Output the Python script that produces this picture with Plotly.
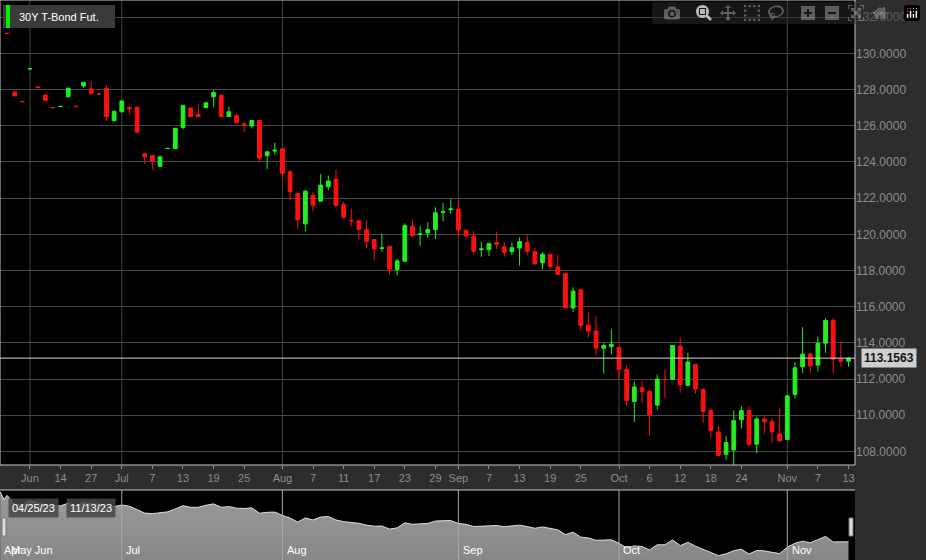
import pandas as pd
import plotly.graph_objects as go

# trading days shown on the chart
early_dates = ["2023-05-24", "2023-05-26", "2023-05-30", "2023-06-01", "2023-06-05", "2023-06-08",
               "2023-06-12", "2023-06-14", "2023-06-16", "2023-06-21", "2023-06-23", "2023-06-27",
               "2023-06-28", "2023-06-29", "2023-06-30", "2023-07-03"]
dates = early_dates + [d.strftime("%Y-%m-%d") for d in pd.bdate_range("2023-07-04", "2023-11-13")]

opens = [131.12, 127.87, 127.34, 129.14, 128.14, 127.7, 127.01, 127.06, 127.6, 127.08,
         128.2, 128.04, 127.76, 128.06, 126.27, 126.77, 127.0, 127.03, 124.45, 124.36,
         123.76, 124.74, 124.73, 125.9, 126.98, 126.63, 127.0, 127.6, 127.69, 126.51,
         126.57, 126.1, 125.99, 126.29, 124.35, 124.6, 124.73, 123.45, 122.25, 120.58,
         122.16, 121.83, 122.63, 123.05, 121.64, 120.78, 120.75, 120.26, 119.71, 119.22,
         119.33, 118.05, 118.51, 120.45, 119.98, 120.07, 120.26, 121.21, 121.36, 121.4,
         120.22, 119.89, 119.15, 119.15, 119.55, 119.31, 119.04, 119.24, 119.55, 119.04,
         118.42, 118.9, 118.2, 117.84, 115.93, 116.93, 114.98, 114.66, 113.7, 113.79,
         113.75, 112.53, 110.76, 111.52, 111.31, 110.56, 111.98, 111.98, 113.82, 111.65,
         112.8, 111.42, 110.26, 109.08, 107.84, 108.08, 109.75, 110.26, 108.4, 109.78,
         109.65, 108.98, 108.66, 111.15, 112.68, 113.38, 112.77, 113.98, 115.24, 113.1,
         112.99]
highs = [131.12, 127.87, 127.34, 129.15, 128.14, 127.7, 127.01, 127.07, 128.08, 127.08,
         128.4, 128.48, 127.76, 128.24, 126.8, 127.37, 127.09, 127.03, 124.45, 124.36,
         124.36, 124.75, 125.86, 127.13, 126.98, 127.18, 127.27, 127.96, 127.69, 127.07,
         126.68, 126.2, 126.29, 126.29, 124.56, 125.06, 124.73, 123.56, 122.25, 122.47,
         122.35, 123.33, 123.24, 123.56, 121.79, 121.41, 120.75, 120.77, 119.71, 120.04,
         119.33, 118.66, 120.6, 120.83, 120.45, 120.67, 121.5, 121.73, 121.94, 121.88,
         120.22, 120.2, 119.6, 119.5, 120.15, 119.55, 119.55, 119.83, 119.96, 119.24,
         119.0, 118.9, 118.87, 117.84, 117.08, 116.99, 115.69, 115.47, 113.98, 114.76,
         113.8, 112.77, 111.88, 111.9, 111.45, 112.24, 112.53, 113.86, 114.3, 113.45,
         112.8, 111.5, 110.4, 109.4, 108.86, 110.26, 110.5, 110.5, 109.92, 109.9,
         109.83, 110.39, 111.15, 112.94, 114.87, 113.45, 114.35, 115.37, 115.37, 114.02,
         113.19]
lows = [131.1, 127.65, 127.33, 129.14, 128.13, 127.4, 127.0, 127.06, 127.6, 127.07,
        128.1, 127.7, 127.76, 126.25, 126.27, 126.77, 126.63, 125.64, 123.9, 123.56,
        123.76, 124.74, 124.73, 125.8, 126.5, 126.5, 127.0, 127.03, 126.44, 126.51,
        126.18, 125.64, 125.84, 124.02, 123.6, 124.4, 123.05, 121.88, 120.3, 120.16,
        121.27, 121.83, 122.44, 121.51, 120.86, 120.45, 119.71, 119.24, 118.59, 119.04,
        117.79, 117.73, 118.51, 119.85, 119.35, 119.8, 119.74, 120.71, 121.14, 119.83,
        119.78, 118.89, 118.76, 118.79, 119.18, 118.76, 118.85, 118.26, 118.85, 118.29,
        118.07, 118.07, 117.73, 115.93, 115.69, 114.68, 114.3, 113.32, 112.3, 113.36,
        111.98, 110.5, 109.62, 110.7, 108.86, 110.31, 110.94, 111.98, 111.24, 111.65,
        111.18, 109.58, 108.77, 107.71, 107.52, 107.1, 109.27, 108.27, 107.9, 108.95,
        108.49, 108.55, 108.62, 110.94, 112.34, 112.34, 112.43, 113.45, 112.34, 112.68,
        112.68]
closes = [131.1, 127.65, 127.33, 129.15, 128.13, 127.4, 127.0, 127.07, 128.08, 127.07,
          128.4, 127.8, 127.76, 126.5, 126.8, 127.37, 126.93, 125.64, 124.27, 124.04,
          124.28, 124.75, 125.86, 127.13, 126.5, 126.5, 127.27, 127.83, 126.5, 126.77,
          126.18, 126.05, 126.29, 124.21, 124.56, 124.65, 123.37, 122.35, 120.8, 122.38,
          121.6, 122.72, 122.94, 121.6, 120.95, 120.75, 120.28, 119.61, 119.19, 119.25,
          118.07, 118.53, 120.48, 119.93, 120.02, 120.26, 121.19, 121.25, 121.4, 120.24,
          119.91, 119.07, 119.19, 119.5, 119.45, 119.0, 119.26, 119.6, 119.05, 118.38,
          118.9, 118.21, 117.79, 115.93, 116.86, 114.96, 114.65, 113.7, 113.85, 113.92,
          112.54, 110.81, 111.56, 111.31, 110.01, 112.0, 111.98, 113.86, 111.68, 112.94,
          111.45, 110.2, 109.14, 107.78, 108.49, 109.7, 110.26, 108.4, 109.79, 109.64,
          109.08, 108.58, 111.07, 112.62, 113.38, 112.73, 113.98, 115.24, 113.1, 112.99,
          113.1563]

# navigator history before the main window (Apr 25 .. May)
nav_pre_x = [-0.9, -0.4]
nav_pre_close = [132.5, 129.5]

tick_dates = ["2023-06-01", "2023-06-14", "2023-06-27", "2023-07-03", "2023-07-07", "2023-07-13",
              "2023-07-19", "2023-07-25", "2023-08-01", "2023-08-07", "2023-08-11", "2023-08-17",
              "2023-08-23", "2023-08-29", "2023-09-01", "2023-09-07", "2023-09-13", "2023-09-19",
              "2023-09-25", "2023-10-02", "2023-10-06", "2023-10-12", "2023-10-18", "2023-10-24",
              "2023-11-01", "2023-11-07", "2023-11-13"]
tick_text = ["Jun", "14", "27", "Jul", "7", "13", "19", "25", "Aug", "7", "11", "17", "23", "29",
             "Sep", "7", "13", "19", "25", "Oct", "6", "12", "18", "24", "Nov", "7", "13"]
month_starts = ["2023-06-01", "2023-07-03", "2023-08-01", "2023-09-01", "2023-10-02", "2023-11-01"]
nav_months = ["Jul", "Aug", "Sep", "Oct", "Nov"]

idx = list(range(len(dates)))
tick_idx = [dates.index(d) for d in tick_dates]
month_idx = [dates.index(d) for d in month_starts]

XD = 855 / 926
MAIN_BOTTOM = 95 / 560
NAV_TOP = 70 / 560
FONT = "Liberation Sans"

fig = go.Figure()
fig.add_trace(go.Candlestick(
    x=idx, open=opens, high=highs, low=lows, close=closes,
    increasing=dict(line=dict(color="#22ee22", width=1), fillcolor="#22ee22"),
    decreasing=dict(line=dict(color="#ff1010", width=1), fillcolor="#ff1010"),
    whiskerwidth=0, showlegend=False, hoverinfo="skip"))

fig.add_trace(go.Scatter(
    x=nav_pre_x + idx, y=nav_pre_close + closes, xaxis="x2", yaxis="y2", mode="lines",
    line=dict(color="#dddddd", width=1), fill="tozeroy",
    fillgradient=dict(type="vertical", colorscale=[[0, "#3a3a3a"], [1, "#9a9a9a"]]),
    showlegend=False, hoverinfo="skip"))

shapes = []
for m in month_idx:
    shapes.append(dict(type="line", xref="x", yref="paper", x0=m, x1=m, y0=MAIN_BOTTOM, y1=1,
                       line=dict(color="#474747", width=1), layer="below"))
for m in month_idx[1:]:
    shapes.append(dict(type="line", xref="x2", yref="paper", x0=m, x1=m, y0=0, y1=NAV_TOP,
                       line=dict(color="#aaaaaa", width=1)))
# last price line
shapes.append(dict(type="line", xref="x", yref="y", x0=-1, x1=112, y0=closes[-1], y1=closes[-1],
                   line=dict(color="#d8d8d8", width=1)))
# plot borders
shapes.append(dict(type="rect", xref="paper", yref="paper", x0=0, x1=XD, y0=MAIN_BOTTOM, y1=1,
                   line=dict(color="#c8c8d8", width=1)))
shapes.append(dict(type="line", xref="paper", yref="paper", x0=0, x1=XD, y0=NAV_TOP, y1=NAV_TOP,
                   line=dict(color="#c8c8d8", width=1)))
# legend badge
shapes.append(dict(type="rect", xref="paper", yref="paper", x0=3 / 926, x1=115 / 926,
                   y0=1 - 28 / 560, y1=1 - 5 / 560, fillcolor="#3a3a3a", line=dict(width=0)))
shapes.append(dict(type="rect", xref="paper", yref="paper", x0=6 / 926, x1=10 / 926,
                   y0=1 - 28 / 560, y1=1 - 5 / 560, fillcolor="#00ee00", line=dict(width=0)))
# navigator handles
for hx in (2, 849):
    shapes.append(dict(type="rect", xref="paper", yref="paper", x0=hx / 926, x1=(hx + 4) / 926,
                       y0=24 / 560, y1=42 / 560, fillcolor="#dddddd", line=dict(color="#777", width=1)))

annotations = [
    dict(text="30Y T-Bond Fut.", xref="paper", yref="paper", x=17 / 926, y=1 - 16.5 / 560,
         xanchor="left", yanchor="middle", showarrow=False,
         font=dict(color="#ffffff", size=11, family=FONT)),
    dict(text="<b>113.1563</b>", xref="paper", yref="y", x=861 / 926, y=closes[-1],
         xanchor="left", yanchor="middle", showarrow=False, bgcolor="#cfcfcf",
         font=dict(color="#111111", size=12, family=FONT), borderpad=2),
    dict(text="04/25/23", xref="paper", yref="paper", x=8 / 926, y=1 - 508 / 560, xanchor="left",
         yanchor="middle", showarrow=False, bgcolor="rgba(70,70,70,0.85)",
         font=dict(color="#ffffff", size=11, family=FONT), borderpad=3),
    dict(text="11/13/23", xref="paper", yref="paper", x=66 / 926, y=1 - 508 / 560, xanchor="left",
         yanchor="middle", showarrow=False, bgcolor="rgba(70,70,70,0.85)",
         font=dict(color="#ffffff", size=11, family=FONT), borderpad=3),
    dict(text="Apr", xref="paper", yref="paper", x=2 / 926, y=10 / 560, xanchor="left",
         yanchor="middle", showarrow=False, font=dict(color="#ffffff", size=11, family=FONT)),
    dict(text="May Jun", xref="paper", yref="paper", x=9 / 926, y=10 / 560, xanchor="left",
         yanchor="middle", showarrow=False, font=dict(color="#ffffff", size=11, family=FONT)),
]
for m, name in zip(month_idx[1:], nav_months):
    annotations.append(dict(text=name, xref="x2", yref="paper", x=m + 0.3, y=10 / 560,
                            xanchor="left", yanchor="middle", showarrow=False,
                            font=dict(color="#ffffff", size=11, family=FONT)))

xr = [-0.92, 110.85]
fig.update_layout(
    width=926, height=560, margin=dict(l=0, r=0, t=0, b=0),
    paper_bgcolor="#2d2d2d", plot_bgcolor="#000000",
    shapes=shapes, annotations=annotations,
    xaxis=dict(domain=[0, XD], range=xr, rangeslider=dict(visible=False), tickmode="array",
               tickvals=tick_idx, ticktext=tick_text, showgrid=False, zeroline=False,
               ticks="outside", ticklen=3, tickcolor="#888888",
               tickfont=dict(color="#8c8c8c", size=11, family=FONT)),
    yaxis=dict(domain=[MAIN_BOTTOM, 1], range=[107.25, 132.95], side="right", dtick=2, tick0=108,
               tickformat=".4f", gridcolor="#474747", zeroline=False, ticks="",
               tickfont=dict(color="#8c8c8c", size=12, family=FONT)),
    xaxis2=dict(domain=[0, XD], range=xr, anchor="y2", visible=False),
    yaxis2=dict(domain=[0, NAV_TOP], range=[106.1, 133.2], anchor="x2", visible=False),
)

fig.write_html("out.html")

# drop the browser's default page margin so the figure sits at 0,0
with open("out.html") as f:
    page = f.read()
page = page.replace("<head>", "<head><style>body{margin:0;overflow:hidden}</style>", 1)
with open("out.html", "w") as f:
    f.write(page)
